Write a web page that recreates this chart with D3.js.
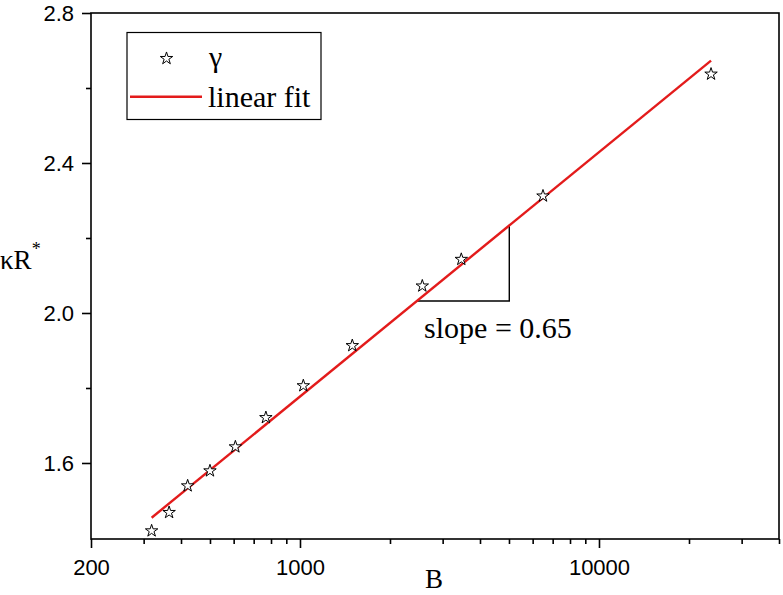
<!DOCTYPE html>
<html>
<head>
<meta charset="utf-8">
<script src="https://cdn.jsdelivr.net/npm/d3@7"></script>
<style>
  body { margin: 0; background: #fff; }
  .tick text { font-family: "Liberation Sans", Arial, sans-serif; font-size: 22px; fill: #000; }
  .serif { font-family: "Liberation Serif", "Times New Roman", serif; fill: #000; }
</style>
</head>
<body>
<svg id="chart" width="783" height="595"></svg>
<script>
// measured values (B on log axis, kappa R* on linear axis)
const bValues = [319, 365, 421, 500, 608, 769, 1026, 1496, 2565, 3463, 6497, 23700];
const kValues = [1.419, 1.468, 1.539, 1.579, 1.643, 1.721, 1.806, 1.913, 2.072, 2.143, 2.312, 2.637];

// linear fit end points
const fitB = [319, 23700];
const fitK = [1.454, 2.673];

// slope triangle corners
const triB = [2455, 5012];
const triK = [2.032, 2.232];

const xMajor = [200, 1000, 10000];
const xMinor = [300, 400, 500, 600, 700, 800, 900, 2000, 3000, 4000, 5000, 6000, 7000, 8000, 9000, 20000, 30000, 40000];
const yMajor = [1.6, 2.0, 2.4, 2.8];
const yMinor = [1.8, 2.2, 2.6];

const svg = d3.select("#chart");
const plotLeft = 91, plotRight = 779, plotTop = 13, plotBottom = 539;

const xScale = d3.scaleLog().domain([200, 40000]).range([plotLeft, plotRight]);
const yScale = d3.scaleLinear().domain([1.3973, 2.8]).range([plotBottom, plotTop]);

// frame
svg.append("rect")
    .attr("x", plotLeft).attr("y", plotTop)
    .attr("width", plotRight - plotLeft).attr("height", plotBottom - plotTop)
    .attr("fill", "none").attr("stroke", "#000").attr("stroke-width", 1.6);

// x axis
const gx = svg.append("g").attr("transform", `translate(0,${plotBottom})`);
gx.call(d3.axisBottom(xScale).tickValues(xMajor).tickSize(9).tickPadding(11).tickFormat(d3.format("d")));
const gxm = svg.append("g").attr("transform", `translate(0,${plotBottom})`);
gxm.call(d3.axisBottom(xScale).tickValues(xMinor).tickSize(5).tickFormat(""));

// y axis
const gy = svg.append("g").attr("transform", `translate(${plotLeft},0)`);
gy.call(d3.axisLeft(yScale).tickValues(yMajor).tickSize(9).tickPadding(8).tickFormat(d3.format(".1f")));
const gym = svg.append("g").attr("transform", `translate(${plotLeft},0)`);
gym.call(d3.axisLeft(yScale).tickValues(yMinor).tickSize(5).tickFormat(""));

svg.selectAll(".domain").remove();
svg.selectAll(".tick line").attr("stroke", "#000").attr("stroke-width", 1.6);
gx.selectAll(".tick text").attr("dy", "0.71em");

// axis titles
svg.append("text").attr("class", "serif")
    .attr("x", 434).attr("y", 588)
    .attr("text-anchor", "middle")
    .style("font-size", "27px")
    .text("B");

const yt = svg.append("text").attr("class", "serif")
    .attr("x", 0).attr("y", 269)
    .style("font-size", "27px");
yt.append("tspan").text("κR");
yt.append("tspan").attr("dy", -14).style("font-size", "18px").text("*");

// slope triangle
svg.append("path")
    .attr("d", d3.line()([
        [xScale(triB[0]), yScale(triK[0])],
        [xScale(triB[1]), yScale(triK[0])],
        [xScale(triB[1]), yScale(triK[1])]
    ]))
    .attr("fill", "none").attr("stroke", "#000").attr("stroke-width", 1.4);

svg.append("text").attr("class", "serif")
    .attr("x", xScale(2600)).attr("y", yScale(1.933))
    .style("font-size", "30px")
    .text("slope = 0.65");

// fit line
svg.append("line")
    .attr("x1", xScale(fitB[0])).attr("y1", yScale(fitK[0]))
    .attr("x2", xScale(fitB[1])).attr("y2", yScale(fitK[1]))
    .attr("stroke", "#e31b1b").attr("stroke-width", 2.4);

// data stars
const star = d3.symbol().type(d3.symbolStar).size(48);
svg.selectAll(".pt")
    .data(bValues.map((b, i) => ({ b: b, k: kValues[i] })))
    .join("path")
    .attr("class", "pt")
    .attr("transform", d => `translate(${xScale(d.b)},${yScale(d.k)})`)
    .attr("d", star)
    .attr("fill", "#fff").attr("stroke", "#000").attr("stroke-width", 1);

// legend
const lg = svg.append("g");
lg.append("rect")
    .attr("x", 127).attr("y", 32.5).attr("width", 194).attr("height", 87)
    .attr("fill", "#fff").attr("stroke", "#000").attr("stroke-width", 1.2);
lg.append("path")
    .attr("transform", "translate(166.5,58.5)")
    .attr("d", star)
    .attr("fill", "#fff").attr("stroke", "#000").attr("stroke-width", 1);
lg.append("text").attr("class", "serif")
    .attr("x", 209).attr("y", 67)
    .style("font-size", "30px")
    .text("γ");
lg.append("line")
    .attr("x1", 130).attr("x2", 202).attr("y1", 96.7).attr("y2", 96.7)
    .attr("stroke", "#e31b1b").attr("stroke-width", 2.4);
lg.append("text").attr("class", "serif")
    .attr("x", 208).attr("y", 106.5)
    .style("font-size", "30px")
    .text("linear fit");
</script>
</body>
</html>
